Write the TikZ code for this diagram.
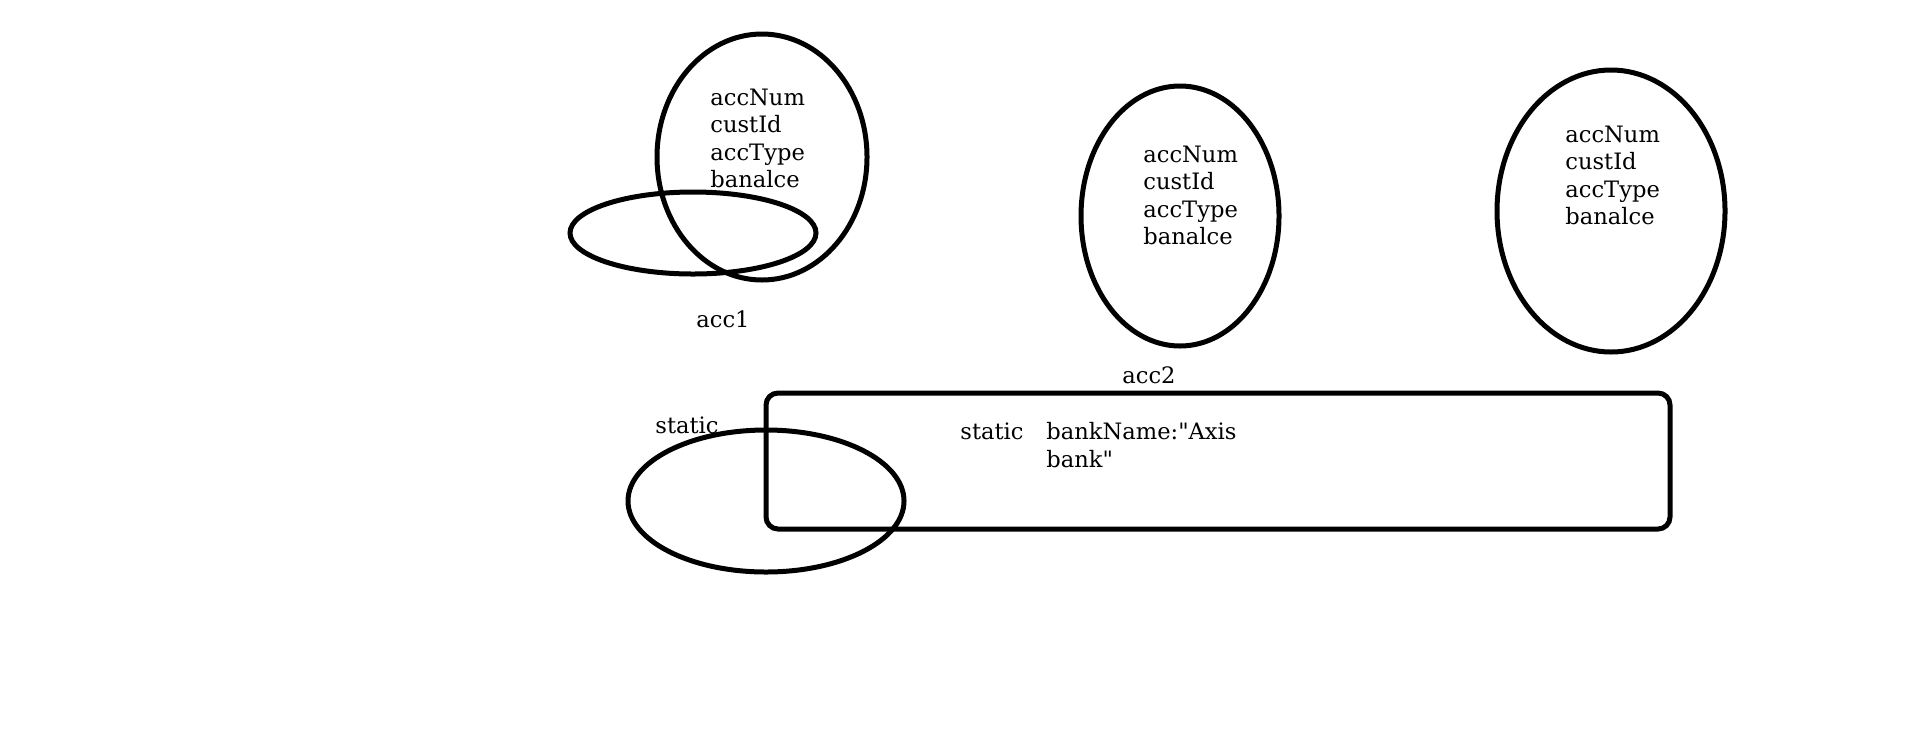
\documentclass[tikz,border=0pt]{standalone}
\usepackage{fontspec}
\setmainfont{DejaVu Serif}
\usetikzlibrary{shapes,positioning}

\begin{document}
\begin{tikzpicture}[x=0.5pt,y=-0.5pt]
             \tikzstyle{obj} = [draw,ellipse,line width=2.5pt,inner sep=0pt]
             \tikzstyle{pool} = [draw,rounded corners=6pt,line width=2.5pt,inner sep=0pt]
             \tikzstyle{field} = [anchor=base west,align=left,inner sep=0pt,font=\fontsize{11.3}{13.75}\selectfont]
             \tikzstyle{lbl} = [anchor=base,inner sep=0pt,font=\fontsize{11.3}{13.75}\selectfont]
		\useasboundingbox (0,0) rectangle (1914,740);
		% Object acc1 (base = last line)
		\node[obj,minimum width=105pt,minimum height=123pt] (o1) at (762,157) {};
		\node[field] (f1) at (710,187.5) {accNum\\custId\\accType\\banalce};
		\node[obj,minimum width=123pt,minimum height=41pt] (r1) at (693,233) {};
		\node[lbl] (n1) at (723,327) {acc1};
		% Object acc2
		\node[obj,minimum width=99pt,minimum height=130pt] (o2) at (1180,216) {};
		\node[field] (f2) at (1143,244.5) {accNum\\custId\\accType\\banalce};
		\node[lbl] (n2) at (1149,383) {acc2};
		% Object 3
		\node[obj,minimum width=114pt,minimum height=141pt] (o3) at (1611,211) {};
		\node[field] (f3) at (1565,224.5) {accNum\\custId\\accType\\banalce};
		% Static area
		\node[pool,minimum width=452pt,minimum height=68pt] (s0) at (1218,461) {};
		\node[obj,minimum width=138pt,minimum height=71pt] (s1) at (766,501) {};
		\node[field] (s2) at (655,433) {static};
		\node[field] (s3) at (960,439) {static};
		\node[field] (s4) at (1046,467) {bankName:\textquotedbl Axis\\bank\textquotedbl};
		\end{tikzpicture}
\end{document}
